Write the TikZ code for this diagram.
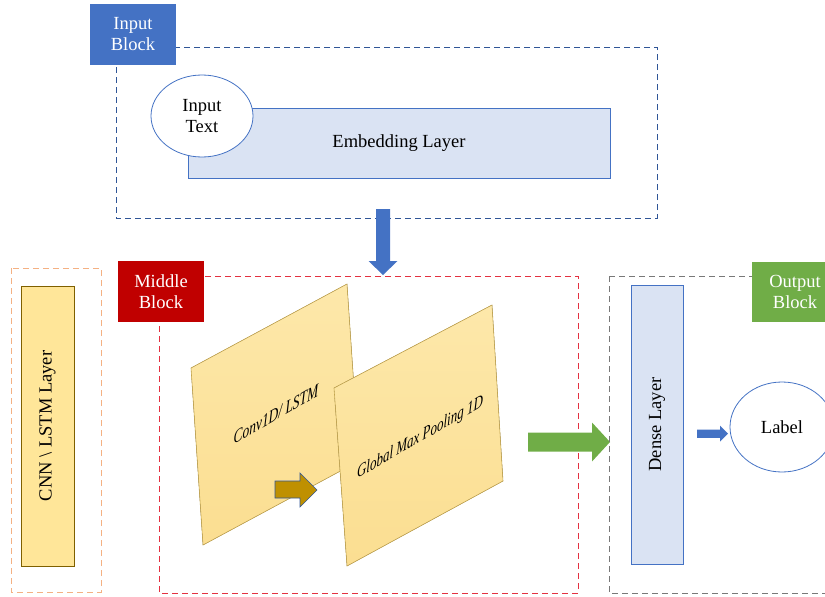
\documentclass[tikz,border=0pt]{standalone}
\usepackage{fontspec}
\setmainfont{Liberation Serif}
\usetikzlibrary{shapes.geometric}
\definecolor{accblue}{RGB}{68,114,196}
\definecolor{dblue}{RGB}{47,85,151}
\definecolor{lightblue}{RGB}{218,227,243}
\definecolor{darkred}{RGB}{192,0,0}
\definecolor{dashred}{RGB}{228,48,64}
\definecolor{dashorange}{RGB}{244,177,131}
\definecolor{dashgray}{RGB}{120,120,120}
\definecolor{accgreen}{RGB}{112,173,71}
\definecolor{goldfill}{RGB}{255,230,153}
\definecolor{paneltop}{RGB}{253,232,170}
\definecolor{panelbot}{RGB}{251,222,145}
\definecolor{goldedge}{RGB}{127,96,0}
\definecolor{paneledge}{RGB}{195,165,80}
\definecolor{darkgold}{RGB}{191,144,0}
\tikzset{
  dashbox/.style={dash pattern=on 6pt off 4pt, line width=0.9pt},
  tagbox/.style={draw=none, minimum width=86pt, minimum height=61pt, align=center, text=white, inner sep=0pt, font=\fontsize{18.5}{21}\selectfont},
  bluerect/.style={draw=accblue, fill=lightblue, line width=0.8pt, inner sep=0pt},
  goldrect/.style={draw=goldedge, fill=goldfill, line width=1pt, inner sep=0pt},
  oval/.style={ellipse, draw=accblue, fill=white, line width=0.8pt, inner sep=0pt, align=center},
  panel/.style={top color=paneltop, bottom color=panelbot, draw=paneledge, line width=0.6pt},
  paneltext/.style={font=\fontsize{15.5}{18}\selectfont\itshape, cm={0.866,0.5,0,1.2,(0,0)}, inner sep=0pt}
}
\begin{document}
\begin{tikzpicture}[x=1pt, y=-1pt, font=\fontsize{18.5}{21}\selectfont]
\useasboundingbox (0,0) rectangle (825,597);
\clip (0,0) rectangle (825,597);

% ---------- Input block ----------
\draw[dashbox, draw=dblue] (116,47) rectangle (657,218);
\node[tagbox, fill=accblue] (inblock) at (133,34.5) {Input\\Block};
\node[bluerect, minimum width=422pt, minimum height=70pt] (embed) at (399,143) {Embedding Layer};
\node[oval, minimum width=102pt, minimum height=82pt] (intext) at (202,116) {Input\\Text};

% down arrow
\fill[accblue] (376,209) -- (390,209) -- (390,261) -- (397.5,261) -- (383,275) -- (368.5,261) -- (376,261) -- cycle;

% ---------- Left legend ----------
\draw[dashbox, draw=dashorange] (11,268) rectangle (101,592);
\node[goldrect, minimum width=280pt, minimum height=53pt, rotate=90] (cnn) at (47.5,426) {CNN \textbackslash{} LSTM Layer};

% ---------- Middle block ----------
\draw[dashbox, draw=dashred] (159,276) rectangle (578,593);
\node[tagbox, fill=darkred] (midblock) at (161,291.5) {Middle\\Block};

\fill[panel] (191,368) -- (347,284) -- (359,461) -- (203,545) -- cycle;
\node[paneltext] (conv) at (276,414) {Conv1D/ LSTM};
\fill[panel] (334,388) -- (492,305) -- (503,481) -- (347,566) -- cycle;
\node[paneltext, font=\fontsize{15}{18}\selectfont\itshape] (gmp) at (420,438) {Global Max Pooling 1D};

% gold arrow
\filldraw[fill=darkgold, draw=dblue, line width=0.6pt] (275,481) -- (300,481) -- (300,473) -- (317,490) -- (300,507) -- (300,498) -- (275,498) -- cycle;

% green arrow
\fill[accgreen] (528,432.5) -- (592,432.5) -- (592,422.5) -- (610,442) -- (592,461.5) -- (592,451.5) -- (528,451.5) -- cycle;

% ---------- Output block ----------
\draw[dashbox, draw=dashgray] (609,276) rectangle (845,593);
\node[tagbox, fill=accgreen, minimum height=60pt] (outblock) at (795,292) {Output\\Block};
\node[bluerect, minimum width=279pt, minimum height=52pt, rotate=90] (dense) at (657,424.5) {Dense Layer};

% small blue arrow
\fill[accblue] (697,429.5) -- (720,429.5) -- (720,425.7) -- (728,433.7) -- (720,441.7) -- (720,437.9) -- (697,437.9) -- cycle;

\node[oval, minimum width=104pt, minimum height=90pt] (label) at (782,427) {Label};
\end{tikzpicture}
\end{document}
